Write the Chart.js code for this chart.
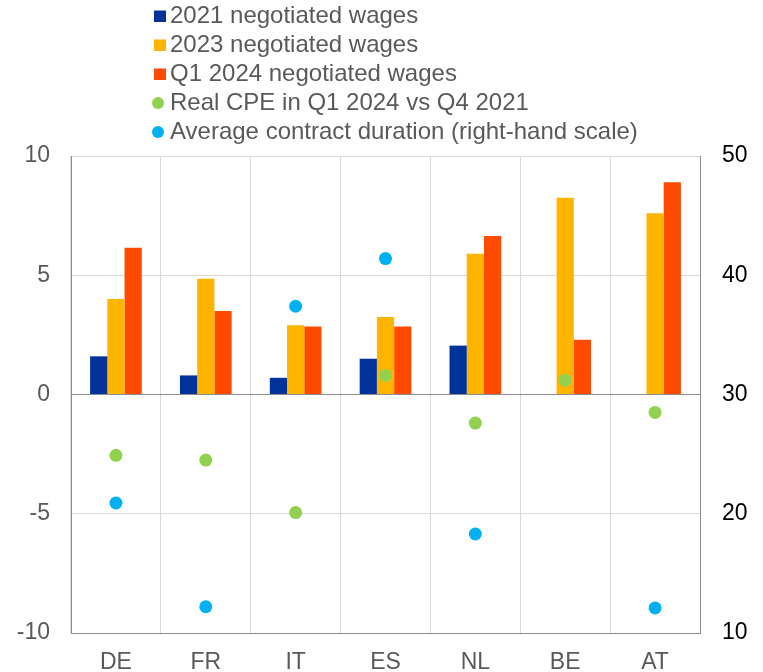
<!DOCTYPE html>
<html><head><meta charset="utf-8">
<script src="https://cdn.jsdelivr.net/npm/chart.js@4"></script>
<style>html,body{margin:0;padding:0;background:#fff;}#wrap{width:763px;height:672px;position:relative;}</style>
</head><body><div id="wrap"><canvas id="c" width="763" height="672"></canvas></div>
<script>
const categories = ['DE','FR','IT','ES','NL','BE','AT'];
const wages2021 = [1.6, 0.8, 0.7, 1.5, 2.05, null, null];
const wages2023 = [4.0, 4.85, 2.9, 3.25, 5.9, 8.25, 7.6];
const wagesQ12024 = [6.15, 3.5, 2.85, 2.85, 6.65, 2.3, 8.9];
const realCPE = [-2.55, -2.75, -4.95, 0.8, -1.2, 0.6, -0.75];
const contractDuration = [20.9, 12.2, 37.4, 41.4, 18.3, null, 12.1];
const leftTicks = [-10, -5, 0, 5, 10];
const rightTicks = [10, 20, 30, 40, 50];

const FONT = "'Liberation Sans', Arial, sans-serif";

const legendPlugin = {
  id: 'stackLegend',
  afterDraw(chart) {
    const ctx = chart.ctx;
    ctx.save();
    ctx.font = '24px ' + FONT;
    ctx.textBaseline = 'middle';
    ctx.textAlign = 'left';
    chart.data.datasets.forEach((ds, i) => {
      const y = 16 + i * 29;
      ctx.fillStyle = ds.backgroundColor;
      if (ds.type === 'bar') {
        ctx.fillRect(154, y - 5.5, 12, 11.5);
      } else {
        ctx.beginPath();
        ctx.arc(158, y, 6, 0, Math.PI * 2);
        ctx.fill();
      }
      ctx.fillStyle = '#595959';
      ctx.fillText(ds.label, 170, y);
    });
    ctx.restore();
  }
};

new Chart(document.getElementById('c'), {
  data: {
    labels: categories,
    datasets: [
      {type:'bar', label:'2021 negotiated wages', data: wages2021, backgroundColor:'#003299', yAxisID:'y', order:1, categoryPercentage:0.575, barPercentage:1},
      {type:'bar', label:'2023 negotiated wages', data: wages2023, backgroundColor:'#FFB400', yAxisID:'y', order:1, categoryPercentage:0.575, barPercentage:1},
      {type:'bar', label:'Q1 2024 negotiated wages', data: wagesQ12024, backgroundColor:'#FF4B00', yAxisID:'y', order:1, categoryPercentage:0.575, barPercentage:1},
      {type:'line', label:'Real CPE in Q1 2024 vs Q4 2021', data: realCPE, backgroundColor:'#92D050', borderColor:'#92D050', showLine:false, pointRadius:6.5, pointBorderWidth:0, yAxisID:'y', order:0},
      {type:'line', label:'Average contract duration (right-hand scale)', data: contractDuration, backgroundColor:'#00B0F0', borderColor:'#00B0F0', showLine:false, pointRadius:6.5, pointBorderWidth:0, yAxisID:'y2', order:0}
    ]
  },
  options: {
    responsive:false,
    animation:false,
    events: [],
    layout:{padding:{top:156, left:0, right:0, bottom:0}},
    plugins:{legend:{display:false}, tooltip:{enabled:false}},
    scales:{
      x:{
        offset:true,
        grid:{color:'#d9d9d9', lineWidth:1, drawTicks:false, offset:true},
        border:{color:'#8c8c8c'},
        ticks:{color:'#595959', font:{family:FONT, size:23}, padding:16},
        afterFit(s){ s.height = 39; }
      },
      y:{
        position:'left', min:-10, max:10,
        afterBuildTicks(s){ s.ticks = leftTicks.map(v=>({value:v})); },
        grid:{color:(c)=> c.tick && c.tick.value===0 ? '#8c8c8c' : '#d9d9d9', drawTicks:false},
        border:{color:'#8c8c8c'},
        ticks:{color:'#595959', font:{family:FONT, size:23}, padding:21},
        afterFit(s){ s.width = 71; }
      },
      y2:{
        position:'right', min:10, max:50,
        afterBuildTicks(s){ s.ticks = rightTicks.map(v=>({value:v})); },
        grid:{drawOnChartArea:false, drawTicks:false},
        border:{color:'#8c8c8c'},
        ticks:{color:'#000000', font:{family:FONT, size:23}, padding:22},
        afterFit(s){ s.width = 63; }
      }
    }
  },
  plugins:[legendPlugin]
});
</script></body></html>
